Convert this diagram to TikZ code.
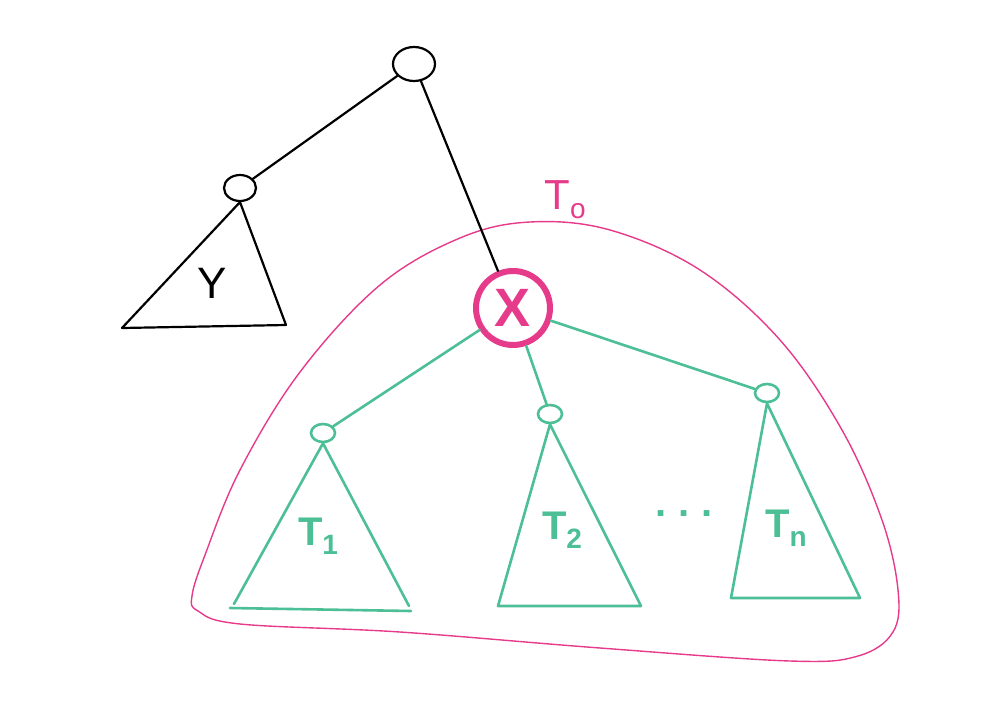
\documentclass[tikz,border=0pt]{standalone}
\usepackage{fontspec}
\setmainfont{Liberation Sans}
\usetikzlibrary{shapes.geometric}
\definecolor{mag}{HTML}{E63B8A}
\definecolor{grn}{HTML}{4DBF96}
\newcommand{\lowsub}[1]{\raisebox{-9pt}{\fontsize{28}{28}\selectfont #1}}
\tikzset{
  blk/.style={draw=black, line width=2.2pt, line join=round, line cap=round},
  grnline/.style={draw=grn, line width=2.6pt, line join=round, line cap=round},
  blknode/.style={ellipse, draw=black, line width=2.2pt, inner sep=0pt},
  grnnode/.style={ellipse, draw=grn, line width=2.6pt, inner sep=0pt, minimum width=24pt, minimum height=18pt},
  grnlabel/.style={text=grn, font=\bfseries\fontsize{40}{40}\selectfont},
}
\begin{document}
\begin{tikzpicture}[x=1pt,y=-1pt]
\useasboundingbox (0,0) rectangle (1004,712);
% blob
\draw[mag, line width=1.4pt] plot[smooth cycle, tension=0.6] coordinates {
 (192,596) (205,555) (240,470) (300,372) (380,285) (460,238) (530,222) (610,230)
 (700,270) (780,340) (842,430) (882,520) (898,590) (893,632) (858,656) (790,661)
 (600,648) (400,632) (240,624) (198,611)};
% black part
\node[blknode, minimum width=42pt, minimum height=34pt] (root) at (414,64) {};
\node[blknode, minimum width=32pt, minimum height=26pt] (ynode) at (240,188) {};
\coordinate (yl) at (122,328);
\coordinate (yr) at (286,325);
\draw[blk] (ynode.south) -- (yl) -- (yr) -- (ynode.south);
\node[font=\fontsize{44}{44}\selectfont] (ylab) at (212,283) {Y};
\node[ellipse, draw=mag, line width=6pt, minimum width=74pt, minimum height=74pt, inner sep=0pt,
      text=mag, font=\bfseries\fontsize{54}{54}\selectfont] (x) at (513,308) {X};
\draw[blk] (root) -- (ynode);
\draw[blk] (root) -- (x);
\node[text=mag, font=\fontsize{42}{42}\selectfont] (t0) at (565,200) {T\lowsub{o}};
% green
\node[grnnode] (n1) at (323,433) {};
\node[grnnode] (n2) at (550,414) {};
\node[grnnode] (n3) at (767,393) {};
\draw[grnline] (x) -- (n1);
\draw[grnline] (x) -- (n2);
\draw[grnline] (x) -- (n3);
\coordinate (a1) at (234,604); \coordinate (b1) at (409,606);
\coordinate (c1) at (230,608); \coordinate (d1) at (411,611);
\draw[grnline] (a1) -- (n1.south) -- (b1);
\draw[grnline] (c1) -- (d1);
\coordinate (a2) at (498,606); \coordinate (b2) at (641,606);
\draw[grnline] (a2) -- (n2.south) -- (b2) -- cycle;
\coordinate (a3) at (731,598); \coordinate (b3) at (860,598);
\draw[grnline] (a3) -- (n3.south) -- (b3) -- cycle;
\node[grnlabel] (l1) at (318,536) {T\lowsub{1}};
\node[grnlabel] (l2) at (562,530) {T\lowsub{2}};
\node[grnlabel] (dots) at (684,514) {.\hspace{12pt}.\hspace{12pt}.};
\node[grnlabel] (l3) at (786,528) {T\lowsub{n}};
\end{tikzpicture}
\end{document}
